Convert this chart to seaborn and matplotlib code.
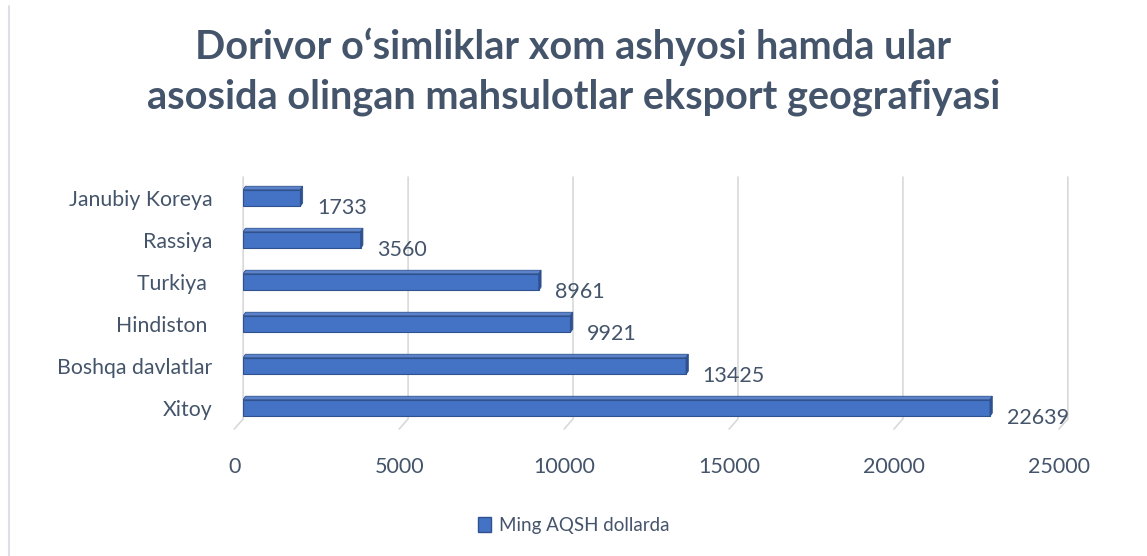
import matplotlib
matplotlib.use("Agg")
import matplotlib.pyplot as plt
import matplotlib.transforms as mtransforms
import seaborn as sns
import pandas as pd
from matplotlib.patches import Polygon, Rectangle
from matplotlib.lines import Line2D

# Data
countries = ["Janubiy Koreya", "Rassiya", "Turkiya ", "Hindiston ", "Boshqa davlatlar", "Xitoy"]
export_values = [1733, 3560, 8961, 9921, 13425, 22639]
x_ticks = [0, 5000, 10000, 15000, 20000, 25000]
series_name = "Ming AQSH dollarda"
title = "Dorivor o\u2018simliklar xom ashyosi hamda ular\nasosida olingan mahsulotlar eksport geografiyasi"

df = pd.DataFrame({"country": countries, "value": export_values})

sns.set_theme(style="white")
plt.rcParams["font.family"] = ["Lato", "DejaVu Sans"]

BAR = "#4472C4"
EDGE = "#2F528F"
TEXT = "#44546A"
GRID = "#D9D9D9"

fig = plt.figure(figsize=(11.47, 5.56), dpi=100)
# thin frame line on the left edge like the original screenshot
fig.lines.append(Line2D([0.0075, 0.0075], [0.0, 0.99], transform=fig.transFigure,
                        color="#DDE1E6", linewidth=1.5))

ax = fig.add_axes([0.212, 0.2284, 0.719, 0.4532])

sns.barplot(data=df, y="country", x="value", order=countries, color=BAR,
            width=0.40, edgecolor=EDGE, linewidth=0.8, saturation=1, ax=ax)

# fake 3D: top and side faces from each bar's own geometry
for p in ax.patches:
    x0, y0 = p.get_x(), p.get_y()
    w, h = p.get_width(), p.get_height()
    dx, dy = 70, -0.08
    top = Polygon([(x0, y0), (x0 + w, y0), (x0 + w + dx, y0 + dy), (x0 + dx, y0 + dy)],
                  closed=True, facecolor="#5B83CC", edgecolor=EDGE, linewidth=0.6)
    side = Polygon([(x0 + w, y0), (x0 + w + dx, y0 + dy), (x0 + w + dx, y0 + h + dy), (x0 + w, y0 + h)],
                   closed=True, facecolor="#2F4F8F", edgecolor=EDGE, linewidth=0.6)
    ax.add_patch(top)
    ax.add_patch(side)

for i, v in enumerate(export_values):
    ax.annotate(f"{v}", (v, i), xytext=(12, -7), textcoords="offset points",
                ha="left", va="center", fontsize=15.5, color=TEXT)

ax.set_xlim(0, 25000)
ax.set_ylim(5.5, -0.5)

# gridlines with a slanted "floor" foot
for t in x_ticks:
    ax.plot([t, t, t - 270], [1.0, 0.04, 0.0], transform=ax.get_xaxis_transform(),
            color=GRID, linewidth=1.2, zorder=0, clip_on=False)

ax.set_xticks(x_ticks)
ax.set_xticklabels([str(t) for t in x_ticks])
ax.tick_params(axis="x", length=0, pad=20, labelsize=15.5, labelcolor=TEXT)
ax.tick_params(axis="y", length=0, pad=22, labelsize=15.3, labelcolor=TEXT)
shift = mtransforms.ScaledTranslation(-9 / 100, 0, fig.dpi_scale_trans)
for lab in ax.get_xticklabels():
    lab.set_transform(lab.get_transform() + shift)
ax.set_xlabel("")
ax.set_ylabel("")
ax.grid(False)
for s in ax.spines.values():
    s.set_visible(False)

fig.suptitle(title, x=0.5, y=0.95, fontsize=28.5, fontweight="bold", color=TEXT,
             linespacing=1.4)

legend_handle = Rectangle((0, 0), 1, 1, facecolor=BAR, edgecolor=EDGE)
fig.legend([legend_handle], [series_name], loc="center", bbox_to_anchor=(0.5, 0.055),
           frameon=False, fontsize=13.5, labelcolor=TEXT, handlelength=0.7,
           handleheight=0.8, handletextpad=0.4)

fig.savefig("out.png", dpi=100)
